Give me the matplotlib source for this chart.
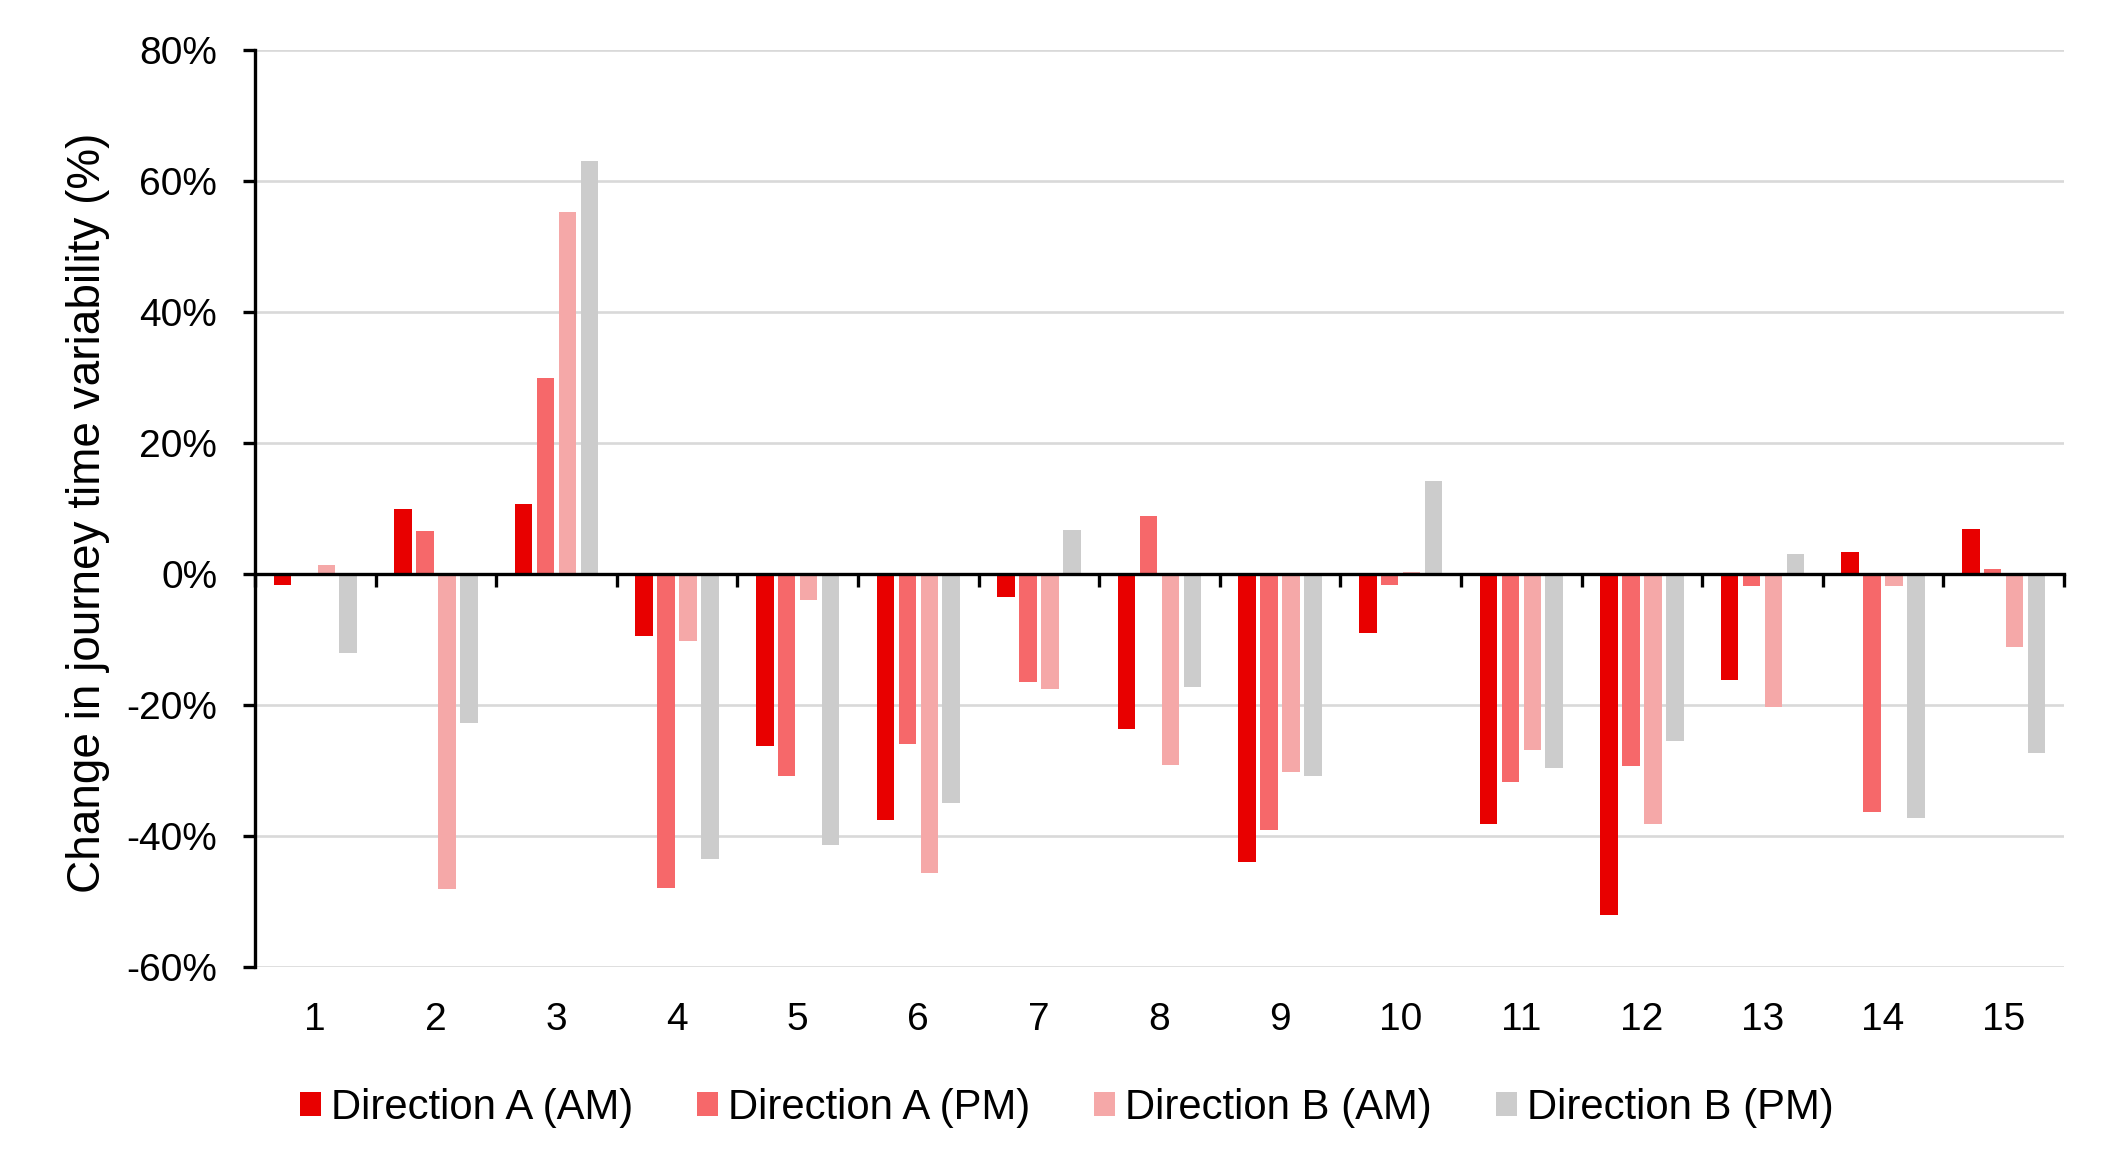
import matplotlib
matplotlib.use("Agg")
import matplotlib.pyplot as plt
import numpy as np

plt.rcParams['font.family'] = ['Liberation Sans', 'DejaVu Sans']

categories = [str(i) for i in range(1, 16)]
dir_a_am = [-1.7, 9.9, 10.7, -9.5, -26.3, -37.5, -3.5, -23.7, -44.0, -9.0, -38.1, -52.1, -16.2, 3.4, 6.8]
dir_a_pm = [0.0, 6.6, 29.9, -48.0, -30.8, -25.9, -16.5, 8.9, -39.1, -1.7, -31.8, -29.3, -1.8, -36.4, 0.8]
dir_b_am = [1.4, -48.1, 55.2, -10.3, -4.0, -45.7, -17.5, -29.2, -30.2, 0.3, -26.8, -38.2, -20.3, -1.8, -11.2]
dir_b_pm = [-12.1, -22.8, 63.0, -43.5, -41.3, -35.0, 6.7, -17.2, -30.8, 14.2, -29.6, -25.5, 3.0, -37.3, -27.4]
series_names = ["Direction A (AM)", "Direction A (PM)", "Direction B (AM)", "Direction B (PM)"]
y_ticks = [-60, -40, -20, 0, 20, 40, 60, 80]
y_tick_labels = ["-60%", "-40%", "-20%", "0%", "20%", "40%", "60%", "80%"]
y_label = "Change in journey time variability (%)"

colors = ["#E80000", "#F6686A", "#F5A8A8", "#CCCCCC"]

W, H = 2115, 1169
fig = plt.figure(figsize=(W / 100, H / 100), dpi=100)
ax = fig.add_axes([255 / W, 1 - 967 / H, (2064 - 255) / W, (967 - 50) / H])

x = np.arange(1, len(categories) + 1)
pitch = 0.182
width = 0.145
all_series = [dir_a_am, dir_a_pm, dir_b_am, dir_b_pm]
for i, (vals, name, c) in enumerate(zip(all_series, series_names, colors)):
    ax.bar(x + (i - 1.5) * pitch, vals, width=width, color=c, label=name, zorder=2)

ax.set_xlim(0.5, len(categories) + 0.5)
ax.set_ylim(-60, 80)
ax.set_yticks(y_ticks)
ax.set_yticklabels(y_tick_labels)
ax.yaxis.grid(True, color="#D9D9D9", linewidth=1.9, zorder=0)
ax.set_axisbelow(True)

for s in ["top", "right"]:
    ax.spines[s].set_visible(False)
ax.spines["left"].set_linewidth(2.4)
ax.spines["bottom"].set_position(("data", 0))
ax.spines["bottom"].set_linewidth(2.4)
ax.spines["bottom"].set_zorder(5)

ax.tick_params(axis="y", direction="out", length=8.6, width=2.4, labelsize=28, pad=18.5)
ax.set_xticks(np.arange(0.5, len(categories) + 1.0, 1.0))
ax.tick_params(axis="x", direction="out", length=9.5, width=2.4, labelbottom=False)

sec = ax.secondary_xaxis("bottom")
sec.set_xticks(x)
sec.set_xticklabels(categories)
sec.tick_params(axis="x", length=0, labelsize=28, pad=25)
sec.spines["bottom"].set_visible(False)

ax.set_ylabel(y_label, fontsize=33)
ax.yaxis.label.set_va("center")
ax.yaxis.set_label_coords((88 - 255) / (2064 - 255), (967 - 513) / (967 - 50))

fig.legend(loc="center", bbox_to_anchor=(1067 / W, 1 - 1108 / H), ncol=4, frameon=False,
           fontsize=30.2, handlelength=0.5, handleheight=0.5, handletextpad=0.24,
           columnspacing=1.52, borderpad=0, borderaxespad=0)

fig.savefig("out.png", dpi=100)
